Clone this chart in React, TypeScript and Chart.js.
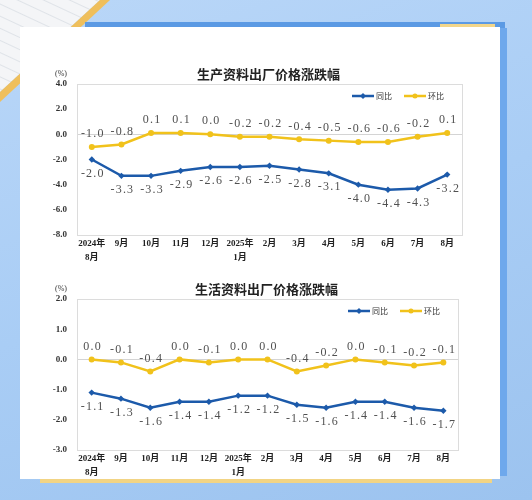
import React, { useEffect, useRef } from 'react';
import { Chart, registerables } from 'chart.js';

Chart.register(...registerables);

// ---------- data ----------
const categories: (string | string[])[] = [
  ['2024年', '8月'], '9月', '10月', '11月', '12月', ['2025年', '1月'],
  '2月', '3月', '4月', '5月', '6月', '7月', '8月',
];
const seriesNames = ['同比', '环比'];
const prodTitle = '生产资料出厂价格涨跌幅';
const consTitle = '生活资料出厂价格涨跌幅';
const unitLabel = '(%)';
const prodYoY = [-2.0, -3.3, -3.3, -2.9, -2.6, -2.6, -2.5, -2.8, -3.1, -4.0, -4.4, -4.3, -3.2];
const prodMoM = [-1.0, -0.8, 0.1, 0.1, 0.0, -0.2, -0.2, -0.4, -0.5, -0.6, -0.6, -0.2, 0.1];
const consYoY = [-1.1, -1.3, -1.6, -1.4, -1.4, -1.2, -1.2, -1.5, -1.6, -1.4, -1.4, -1.6, -1.7];
const consMoM = [0.0, -0.1, -0.4, 0.0, -0.1, 0.0, 0.0, -0.4, -0.2, 0.0, -0.1, -0.2, -0.1];
const prodAxis = [-8, 4, 2];
const consAxis = [-3, 2, 1];

const BLUE = '#1c5aaa';
const YELLOW = '#f1c21b';
const SERIF = "'Liberation Serif', 'Noto Sans CJK SC', serif";
const CJK = "'Noto Sans CJK SC', sans-serif";

// ---------- plugins ----------
const boxPlugin = {
  id: 'plotBox',
  beforeDatasetsDraw(chart: any) {
    const { ctx, chartArea: a } = chart;
    ctx.save();
    ctx.strokeStyle = '#dcdcdc';
    ctx.lineWidth = 1;
    ctx.strokeRect(a.left + 0.5, a.top + 0.5, a.right - a.left, a.bottom - a.top);
    ctx.restore();
  },
};

const valueLabelPlugin = {
  id: 'valueLabels',
  afterDatasetsDraw(chart: any) {
    const { ctx } = chart;
    ctx.save();
    ctx.font = `12px ${SERIF}`;
    ctx.fillStyle = '#505050';
    ctx.textAlign = 'center';
    ctx.textBaseline = 'middle';
    try { (ctx as any).letterSpacing = '1.2px'; } catch (e) {}
    chart.data.datasets.forEach((ds: any, di: number) => {
      const meta = chart.getDatasetMeta(di);
      meta.data.forEach((pt: any, i: number) => {
        const v = ds.data[i] as number;
        const off = di === 0 ? 14 : -13;
        ctx.fillText(v.toFixed(1), pt.x + 1, pt.y + off);
      });
    });
    ctx.restore();
  },
};

const titleLegendPlugin = {
  id: 'titleLegend',
  afterDraw(chart: any) {
    const { ctx, chartArea: a } = chart;
    const title = chart.options.plugins.chartTitleText;
    ctx.save();
    // title
    ctx.font = `bold 13px ${CJK}`;
    ctx.fillStyle = '#222';
    ctx.textAlign = 'center';
    ctx.textBaseline = 'middle';
    ctx.fillText(title, (a.left + a.right) / 2 - 1, a.top - 10);
    // unit
    ctx.font = `8px ${SERIF}`;
    ctx.fillStyle = '#333';
    ctx.fillText(unitLabel, a.left - 16, a.top - 10);
    // legend
    const y = a.top + 12;
    let x = a.right - 110;
    ctx.font = `8px ${CJK}`;
    ctx.textAlign = 'left';
    chart.data.datasets.forEach((ds: any, di: number) => {
      ctx.strokeStyle = ds.borderColor;
      ctx.lineWidth = 2.5;
      ctx.beginPath();
      ctx.moveTo(x, y);
      ctx.lineTo(x + 22, y);
      ctx.stroke();
      ctx.fillStyle = ds.borderColor;
      ctx.beginPath();
      if (di === 0) {
        ctx.moveTo(x + 11, y - 3); ctx.lineTo(x + 14, y); ctx.lineTo(x + 11, y + 3); ctx.lineTo(x + 8, y);
      } else {
        ctx.arc(x + 11, y, 2.5, 0, Math.PI * 2);
      }
      ctx.fill();
      ctx.fillStyle = '#333';
      ctx.fillText(ds.label, x + 24, y);
      x += 24 + ctx.measureText(ds.label).width + 12;
    });
    ctx.restore();
  },
};

function makeConfig(title: string, yoy: number[], mom: number[], axis: number[], padRight: number, padTop: number, xH: number): any {
  return {
    type: 'line',
    data: {
      labels: categories,
      datasets: [
        {
          label: seriesNames[0], data: yoy, borderColor: BLUE, backgroundColor: BLUE,
          borderWidth: 2.5, pointStyle: 'rectRot', pointRadius: 3.2, pointBorderWidth: 0, tension: 0,
        },
        {
          label: seriesNames[1], data: mom, borderColor: YELLOW, backgroundColor: YELLOW,
          borderWidth: 2.5, pointStyle: 'circle', pointRadius: 3, pointBorderWidth: 0, tension: 0,
        },
      ],
    },
    options: {
      responsive: false,
      animation: false,
      layout: { padding: { left: 0, right: padRight, top: padTop, bottom: 0 } },
      plugins: {
        chartTitleText: title,
        legend: { display: false },
        tooltip: { enabled: false },
        title: { display: false },
      },
      scales: {
        x: {
          offset: true,
          grid: { display: false, drawTicks: false },
          border: { display: false },
          afterFit: (s: any) => { s.height = xH; },
          ticks: {
            autoSkip: false, maxRotation: 0, minRotation: 0, padding: 1,
            color: '#222', font: { family: SERIF, size: 9, weight: 'bold', lineHeight: 1.6 },
          },
        },
        y: {
          min: axis[0], max: axis[1],
          grid: {
            drawTicks: false,
            color: (c: any) => (c.tick && c.tick.value === 0 ? '#d4d4d4' : 'rgba(0,0,0,0)'),
          },
          border: { display: false },
          afterFit: (s: any) => { s.width = 37; },
          ticks: {
            stepSize: axis[2], padding: 10, color: '#333',
            font: { family: SERIF, size: 9, weight: 'bold' },
            callback: (v: any) => Number(v).toFixed(1),
          },
        },
      },
    },
    plugins: [boxPlugin, valueLabelPlugin, titleLegendPlugin],
  };
}

function LineChart(props: { cfg: () => any; style: React.CSSProperties; w: number; h: number }) {
  const ref = useRef<HTMLCanvasElement | null>(null);
  useEffect(() => {
    if (!ref.current) return;
    const chart = new Chart(ref.current, props.cfg());
    return () => chart.destroy();
  }, []);
  return <canvas ref={ref} width={props.w} height={props.h} style={{ position: 'absolute', width: props.w, height: props.h, ...props.style }} />;
}

export default function App() {
  return (
    <div style={{ position: 'absolute', left: 0, top: 0, width: 532, height: 500, overflow: 'hidden',
      background: 'linear-gradient(160deg, #bad7f8 0%, #a9cdf5 50%, #9cc3ef 100%)' }}>
      {/* top-left striped paper */}
      <div style={{ position: 'absolute', left: 0, top: 0, width: 110, height: 100,
        clipPath: 'polygon(0 0, 100px 0, 0 92px)',
        background: 'repeating-linear-gradient(25deg, #f4f5f7 0px, #f4f5f7 9px, #dfe3e8 10px, #f4f5f7 11px)' }} />
      {/* orange band */}
      <div style={{ position: 'absolute', left: 0, top: 0, width: 120, height: 110,
        clipPath: 'polygon(100px 0, 110px 0, 0 102px, 0 92px)', background: '#efbf5c' }} />
      {/* blue strip behind top */}
      <div style={{ position: 'absolute', left: 85, top: 22, width: 420, height: 10, background: '#5b9ae4' }} />
      {/* yellow strip top right */}
      <div style={{ position: 'absolute', left: 440, top: 24, width: 55, height: 6, background: '#f3d68a' }} />
      {/* right shadow */}
      <div style={{ position: 'absolute', left: 500, top: 28, width: 7, height: 448, background: '#6ea8ec' }} />
      {/* bottom yellow strip */}
      <div style={{ position: 'absolute', left: 40, top: 476, width: 452, height: 7, background: '#f2d484' }} />
      {/* card */}
      <div style={{ position: 'absolute', left: 20, top: 27, width: 480, height: 452, background: '#ffffff' }} />
      <LineChart w={440} h={210} style={{ left: 40, top: 62 }}
        cfg={() => makeConfig(prodTitle, prodYoY, prodMoM, prodAxis, 18, 22, 37)} />
      <LineChart w={440} h={210} style={{ left: 40, top: 278 }}
        cfg={() => makeConfig(consTitle, consYoY, consMoM, consAxis, 22, 21, 38)} />
    </div>
  );
}
